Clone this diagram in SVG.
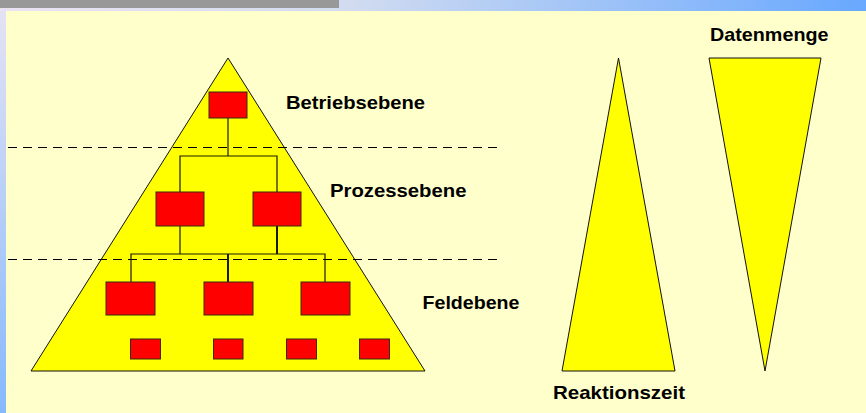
<svg xmlns="http://www.w3.org/2000/svg" width="866" height="413" viewBox="0 0 866 413">
<defs>
<linearGradient id="topg" x1="0" y1="0" x2="1" y2="0">
<stop offset="0" stop-color="#ebe3f3"/>
<stop offset="0.4" stop-color="#d2dcf0"/>
<stop offset="1" stop-color="#68a8ff"/>
</linearGradient>
<linearGradient id="leftg" x1="0" y1="0" x2="0" y2="1">
<stop offset="0" stop-color="#e4e2f4"/>
<stop offset="1" stop-color="#86b9fd"/>
</linearGradient>
</defs>
<style>
.box{fill:#ff0000;stroke:#3a2a10;stroke-width:1}
.tri{fill:#ffff00;stroke:#111;stroke-width:1}
.ln{stroke:#1a1a00;stroke-width:1.2;fill:none}
.thick{stroke-width:2}
.dash{stroke:#000;stroke-width:1;stroke-dasharray:9 6}
.lbl{font-family:"Liberation Sans",Arial,sans-serif;font-weight:bold;font-size:19px;fill:#000}
</style>
<rect x="0" y="0" width="866" height="413" fill="#ffffcc"/>
<rect x="0" y="0" width="866" height="11" fill="url(#topg)"/>
<rect x="0" y="0" width="339" height="8" fill="#989898"/>
<rect x="0" y="11" width="6" height="402" fill="url(#leftg)"/>

<g id="pyramid">
<polygon class="tri" points="228,58 31,371 425,371"/>
</g>

<g id="connectors">
<line class="dash" x1="8" y1="147.5" x2="498" y2="147.5"/>
<line class="dash" x1="8" y1="259.5" x2="498" y2="259.5"/>
<polyline class="ln" points="228,118 228,156"/>
<polyline class="ln" points="180,192 180,156 277,156 277,192"/>
<line class="ln" x1="180" y1="226" x2="180" y2="254"/>
<line class="ln thick" x1="277" y1="226" x2="277" y2="254"/>
<polyline class="ln" points="131,282 131,254 325,254 325,282"/>
<line class="ln thick" x1="228" y1="254" x2="228" y2="282"/>
</g>

<g id="node-betrieb"><rect class="box" x="209" y="92" width="38" height="26"/></g>
<g id="node-prozess1"><rect class="box" x="156" y="192" width="48" height="34"/></g>
<g id="node-prozess2"><rect class="box" x="253" y="192" width="48" height="34"/></g>
<g id="node-feld1"><rect class="box" x="106" y="282" width="49" height="33"/></g>
<g id="node-feld2"><rect class="box" x="204" y="282" width="49" height="33"/></g>
<g id="node-feld3"><rect class="box" x="301" y="282" width="49" height="33"/></g>
<g id="node-sensor1"><rect class="box" x="130.5" y="339" width="30" height="20"/></g>
<g id="node-sensor2"><rect class="box" x="213.5" y="339" width="29.5" height="20"/></g>
<g id="node-sensor3"><rect class="box" x="286.5" y="339" width="30" height="20"/></g>
<g id="node-sensor4"><rect class="box" x="359.5" y="339" width="30" height="20"/></g>

<g id="labels">
<text class="lbl" x="286" y="108.5" textLength="139" lengthAdjust="spacingAndGlyphs">Betriebsebene</text>
<text class="lbl" x="330" y="196.5" textLength="136.5" lengthAdjust="spacingAndGlyphs">Prozessebene</text>
<text class="lbl" x="422.5" y="308.5" textLength="97" lengthAdjust="spacingAndGlyphs">Feldebene</text>
</g>

<g id="reaktionszeit">
<polygon class="tri" points="618.5,58 562,371 675,371"/>
<text class="lbl" x="553" y="399" textLength="132" lengthAdjust="spacingAndGlyphs">Reaktionszeit</text>
</g>

<g id="datenmenge">
<polygon class="tri" points="709,58 821,58 765,371"/>
<text class="lbl" x="710" y="40.5" textLength="118.5" lengthAdjust="spacingAndGlyphs">Datenmenge</text>
</g>
</svg>
